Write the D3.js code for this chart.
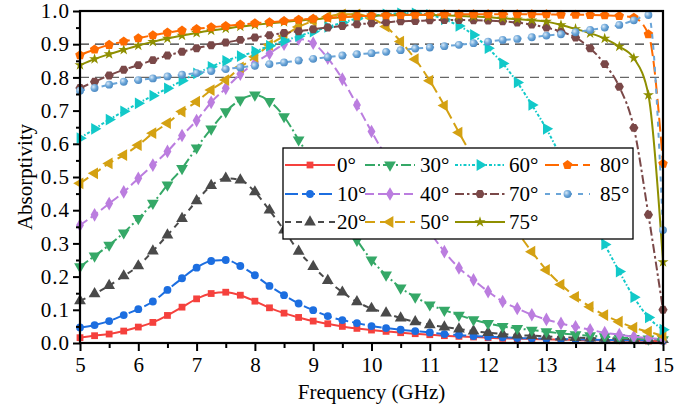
<!DOCTYPE html>
<html><head><meta charset="utf-8">
<script src="https://cdn.jsdelivr.net/npm/d3@7"></script>
<style>
body{margin:0;background:#fff}
svg{display:block}
</style>
</head><body>
<svg id="c" width="698" height="414"></svg>
<script>
// ---------- DATA ----------
const freq = [5,5.25,5.5,5.75,6,6.25,6.5,6.75,7,7.25,7.5,7.75,8,8.25,8.5,8.75,9,9.25,9.5,9.75,10,10.25,10.5,10.75,11,11.25,11.5,11.75,12,12.25,12.5,12.75,13,13.25,13.5,13.75,14,14.25,14.5,14.75,15];
const xTicks = [5,6,7,8,9,10,11,12,13,14,15];
const xMinorTicks = [5.5,6.5,7.5,8.5,9.5,10.5,11.5,12.5,13.5,14.5];
const yTicks = [0,0.1,0.2,0.3,0.4,0.5,0.6,0.7,0.8,0.9,1.0];
const yMinorTicks = [0.05,0.15,0.25,0.35,0.45,0.55,0.65,0.75,0.85,0.95];
const refLines = [0.9,0.8];
const angleLabels = ["0°","10°","20°","30°","40°","50°","60°","70°","75°","80°","85°"];

const abs0  = [0.016,0.022,0.027,0.036,0.048,0.062,0.083,0.108,0.133,0.149,0.153,0.144,0.126,0.106,0.090,0.077,0.066,0.058,0.050,0.044,0.039,0.035,0.031,0.028,0.025,0.022,0.020,0.018,0.016,0.014,0.013,0.012,0.011,0.010,0.009,0.008,0.008,0.007,0.007,0.006,0.006];
const abs10 = [0.047,0.054,0.066,0.084,0.102,0.125,0.160,0.195,0.227,0.247,0.250,0.232,0.204,0.172,0.144,0.119,0.099,0.081,0.069,0.060,0.051,0.045,0.040,0.036,0.032,0.027,0.024,0.021,0.019,0.017,0.015,0.014,0.013,0.012,0.011,0.010,0.009,0.009,0.008,0.008,0.007];
const abs20 = [0.127,0.148,0.173,0.202,0.232,0.277,0.325,0.375,0.428,0.474,0.496,0.491,0.455,0.400,0.340,0.276,0.230,0.188,0.153,0.124,0.104,0.090,0.075,0.064,0.055,0.048,0.042,0.036,0.031,0.027,0.024,0.022,0.020,0.018,0.016,0.015,0.014,0.013,0.012,0.011,0.010];
const abs30 = [0.230,0.262,0.295,0.332,0.375,0.421,0.476,0.526,0.588,0.645,0.697,0.732,0.747,0.728,0.682,0.612,0.540,0.460,0.382,0.310,0.250,0.205,0.166,0.139,0.115,0.099,0.084,0.070,0.059,0.050,0.044,0.039,0.034,0.029,0.025,0.022,0.019,0.016,0.014,0.012,0.010];
const abs40 = [0.355,0.386,0.420,0.455,0.496,0.536,0.577,0.625,0.670,0.725,0.767,0.810,0.843,0.872,0.900,0.916,0.903,0.858,0.795,0.717,0.637,0.560,0.482,0.405,0.335,0.275,0.226,0.190,0.155,0.125,0.104,0.085,0.071,0.059,0.049,0.040,0.031,0.025,0.019,0.015,0.012];
const abs50 = [0.481,0.511,0.541,0.566,0.596,0.632,0.662,0.697,0.727,0.762,0.792,0.830,0.862,0.898,0.925,0.952,0.970,0.983,0.990,0.990,0.978,0.953,0.908,0.855,0.790,0.715,0.634,0.555,0.475,0.400,0.335,0.275,0.220,0.176,0.139,0.109,0.084,0.064,0.046,0.034,0.022];
const abs60 = [0.617,0.645,0.673,0.698,0.722,0.745,0.767,0.790,0.812,0.832,0.850,0.864,0.878,0.895,0.910,0.924,0.938,0.952,0.965,0.977,0.985,0.990,0.993,0.993,0.988,0.975,0.955,0.928,0.888,0.842,0.785,0.717,0.645,0.560,0.470,0.380,0.297,0.215,0.138,0.077,0.040];
const abs70 = [0.768,0.787,0.806,0.823,0.837,0.852,0.866,0.877,0.888,0.897,0.905,0.913,0.920,0.927,0.934,0.939,0.945,0.950,0.955,0.960,0.963,0.966,0.969,0.970,0.972,0.973,0.973,0.972,0.971,0.969,0.965,0.959,0.950,0.938,0.920,0.888,0.840,0.772,0.648,0.386,0.100];
const abs75 = [0.837,0.855,0.870,0.883,0.896,0.907,0.917,0.926,0.934,0.941,0.947,0.953,0.958,0.963,0.967,0.971,0.975,0.978,0.981,0.984,0.986,0.987,0.988,0.988,0.988,0.987,0.985,0.983,0.981,0.978,0.975,0.972,0.968,0.958,0.946,0.933,0.917,0.893,0.858,0.747,0.244];
const abs80 = [0.867,0.884,0.898,0.908,0.918,0.927,0.935,0.941,0.946,0.951,0.955,0.959,0.963,0.966,0.970,0.974,0.977,0.980,0.982,0.984,0.986,0.987,0.988,0.989,0.989,0.990,0.990,0.990,0.990,0.990,0.990,0.990,0.990,0.989,0.989,0.988,0.987,0.985,0.980,0.930,0.540];
const abs85 = [0.760,0.768,0.778,0.787,0.792,0.797,0.803,0.808,0.813,0.819,0.825,0.830,0.835,0.840,0.845,0.851,0.856,0.861,0.866,0.870,0.873,0.877,0.882,0.887,0.890,0.894,0.898,0.903,0.908,0.913,0.916,0.921,0.926,0.930,0.936,0.943,0.950,0.958,0.972,0.988,0.340];

// ---------- STYLES ----------
const seriesValues = [abs0,abs10,abs20,abs30,abs40,abs50,abs60,abs70,abs75,abs80,abs85];
const colors  = ["#f5413d","#1c6ee0","#4a4a4a","#35a867","#bb7ddf","#d4a112","#12c9c9","#7a4848","#8f8f00","#ff6a00","#6aa5d8"];
const dashes  = [null,"13,4","6,5","10,3,2,3","9,4","10,5","3,2,1.5,2","9,3,2.5,3",null,"14,5","5,6"];
const shapes  = ["square","circle","triUp","triDown","diamond","triLeft","triRight","hexagon","star","pentagon","sphere"];
const legendCols = [[0,1,2],[3,4,5],[6,7,8],[9,10]];

const series = angleLabels.map((lab,i)=>({
  label: lab, color: colors[i], dash: dashes[i], shape: shapes[i],
  points: freq.map((f,j)=>({f, v: seriesValues[i][j]}))
}));

// ---------- CHART ----------
const svg = d3.select("#c");
const W = 698, H = 414;
const m = {l:80, r:35, t:11, b:71};
const x = d3.scaleLinear().domain([5,15]).range([m.l, W-m.r]);
const y = d3.scaleLinear().domain([0,1]).range([H-m.b, m.t]);
const SERIF = "Liberation Serif";

const defs = svg.append("defs");
defs.append("clipPath").attr("id","plotclip").append("rect")
  .attr("x",m.l).attr("y",m.t).attr("width",x(15)-x(5)).attr("height",y(0)-y(1));
const grad = defs.append("radialGradient").attr("id","sph").attr("cx","35%").attr("cy","35%").attr("r","65%");
grad.append("stop").attr("offset","0%").attr("stop-color","#d8e8f6");
grad.append("stop").attr("offset","60%").attr("stop-color","#6aa5d8");
grad.append("stop").attr("offset","100%").attr("stop-color","#4f8cc4");

// reference dashed lines
svg.append("g").selectAll("line").data(refLines).join("line")
  .attr("x1",x(5)).attr("x2",x(15)).attr("y1",d=>y(d)).attr("y2",d=>y(d))
  .attr("stroke",(d,i)=>i===0?"#333":"#666").attr("stroke-width",1.3)
  .attr("stroke-dasharray","9,6");

function symbolPath(shape, s){
  const poly = (n, r, rot) => {
    const pts = d3.range(n).map(k=>{const a = rot + 2*Math.PI*k/n; return [r*Math.cos(a), r*Math.sin(a)];});
    return "M"+pts.map(p=>p.join(",")).join("L")+"Z";
  };
  switch(shape){
    case "square": return d3.symbol(d3.symbolSquare, 46*s)();
    case "circle": return d3.symbol(d3.symbolCircle, 48*s)();
    case "sphere": return d3.symbol(d3.symbolCircle, 48*s)();
    case "triUp": case "triDown": case "triLeft": case "triRight": return d3.symbol(d3.symbolTriangle, 60*s)();
    case "diamond": return d3.symbol(d3.symbolDiamond, 54*s)();
    case "star": return d3.symbol(d3.symbolStar, 38*s)();
    case "hexagon": return poly(6, 4.6*Math.sqrt(s), 0);
    case "pentagon": return poly(5, 5*Math.sqrt(s), -Math.PI/2);
  }
}
function symbolRot(shape){
  return shape==="triDown"?180:shape==="triLeft"?-90:shape==="triRight"?90:0;
}
function drawMarker(g, shape, color, cx, cy, s){
  g.append("path").attr("d", symbolPath(shape, s||1))
    .attr("transform",`translate(${cx},${cy}) rotate(${symbolRot(shape)})`)
    .attr("fill", shape==="sphere" ? "url(#sph)" : color)
    .attr("stroke","none");
}

const line = d3.line().x(d=>x(d.f)).y(d=>y(d.v)).curve(d3.curveMonotoneX);

const gs = svg.append("g");
series.forEach(s=>{
  const g = gs.append("g");
  g.append("path").datum(s.points).attr("d",line)
    .attr("fill","none").attr("stroke",s.color).attr("stroke-width",2)
    .attr("stroke-dasharray",s.dash).attr("clip-path","url(#plotclip)");
  s.points.forEach(p=>drawMarker(g, s.shape, s.color, x(p.f), y(p.v)));
});

// axes
const gx = svg.append("g").attr("transform",`translate(0,${y(0)})`)
  .call(d3.axisBottom(x).tickValues(xTicks).tickFormat(d3.format("d")).tickSize(8).tickPadding(6));
svg.append("g").attr("transform",`translate(0,${y(0)})`)
  .call(d3.axisBottom(x).tickValues(xMinorTicks).tickFormat("").tickSize(5));
const gy = svg.append("g").attr("transform",`translate(${x(5)},0)`)
  .call(d3.axisLeft(y).tickValues(yTicks).tickFormat(d3.format(".1f")).tickSize(7).tickPadding(3));
svg.append("g").attr("transform",`translate(${x(5)},0)`)
  .call(d3.axisLeft(y).tickValues(yMinorTicks).tickFormat("").tickSize(4));
svg.selectAll(".domain").remove();
svg.selectAll(".tick line").attr("stroke","#000").attr("stroke-width",2);
svg.selectAll("g[font-family]").attr("font-family",SERIF);
svg.selectAll(".tick text").attr("font-family",SERIF).attr("font-size","21px").attr("fill","#000");
gy.selectAll(".tick text").attr("letter-spacing","1px");

// frame
svg.append("rect").attr("x",x(5)).attr("y",y(1)).attr("width",x(15)-x(5)).attr("height",y(0)-y(1))
  .attr("fill","none").attr("stroke","#000").attr("stroke-width",2.2);

// titles
svg.append("text").attr("x",(x(5)+x(15))/2).attr("y",399).attr("text-anchor","middle")
  .attr("font-family",SERIF).attr("font-size","21px").text("Frequency (GHz)");
svg.append("text").attr("transform",`translate(32,${(y(0)+y(1))/2}) rotate(-90)`)
  .attr("font-family",SERIF).attr("text-anchor","middle").attr("font-size","21px").text("Absorptivity");

// legend
const lg = svg.append("g");
lg.append("rect").attr("x",283).attr("y",148).attr("width",350).attr("height",91)
  .attr("fill","#fff").attr("stroke","#000").attr("stroke-width",1.3);
const colX = [[285,335,337],[365,415,420],[455,505,509],[545,590,600]];
const rowY = [165,194,222];
legendCols.forEach((col,ci)=>{
  col.forEach((si,ri)=>{
    const s = series[si];
    const [x1,x2,tx] = colX[ci];
    const yy = rowY[ri];
    lg.append("line").attr("x1",x1).attr("x2",x2).attr("y1",yy).attr("y2",yy)
      .attr("stroke",s.color).attr("stroke-width",2.2).attr("stroke-dasharray",s.dash);
    drawMarker(lg, s.shape, s.color, (x1+x2)/2, yy, 1.0);
    lg.append("text").attr("x",tx).attr("y",yy).attr("dy","0.35em")
      .attr("font-family",SERIF).attr("font-size","21px").text(s.label);
  });
});
</script>
</body></html>
